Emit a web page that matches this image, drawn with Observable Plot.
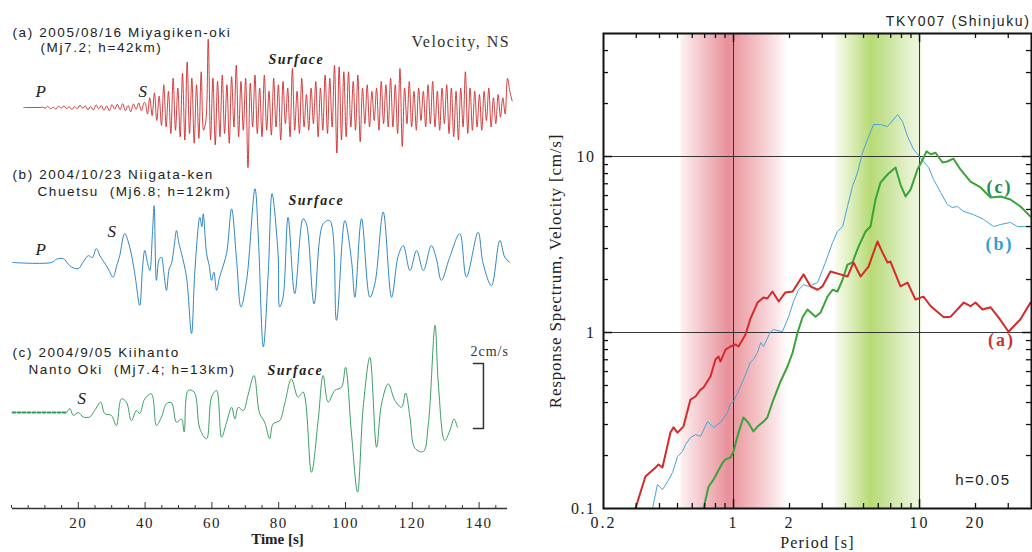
<!DOCTYPE html>
<html><head><meta charset="utf-8">
<script src="https://cdn.jsdelivr.net/npm/d3@7"></script>
<script src="https://cdn.jsdelivr.net/npm/@observablehq/plot@0.6"></script>
<style>
body{margin:0;background:#fff;}
#wrap{position:relative;width:1032px;height:552px;overflow:hidden;background:#fff;}
#left{position:absolute;left:0;top:0;}
#right{position:absolute;left:520px;top:0;}
</style>
</head><body><div id="wrap"><div id="left"></div><div id="right"></div></div>
<script>
// ================= DATA =================
// (a) 2005/08/16 Miyagiken-oki — velocity NS [cm/s]
const aPreStart = 3.7, aPreStep = 0.8;
const aPreVel = [0,0,0,0,0,0,0,0.01,
  -0.02,0.03,-0.04,0.01,-0.05,0.04,-0.02,0.05,-0.03,0.02,-0.06,0.03,-0.04,0.07,-0.02,0.05,-0.07,0.03,
  -0.08,0.08,-0.04,0.06,-0.09,0.05,-0.1,0.09,-0.05,0.1,-0.07,0.12,-0.1,0.06,-0.13,0.11,-0.06,0.14,-0.1,0.15];
const aMainStart = 40, aMainStep = 0.7;
const aMainVel = [
  0.15,-0.2,0.3,-0.25,0.45,-0.4,0.35,-0.55,
  0.7,-0.6,0.5,-0.8,0.9,-0.7,0.6,-0.9,
  1.05,-1.0,1.4,-0.8,0.9,-1.1,0.7,-0.95,
  1.1,-0.7,-0.4,2.1,-1.0,0.9,-1.15,0.8,
  -0.9,1.0,-0.8,0.7,-1.1,0.95,-0.6,1.3,
  -0.9,0.8,-0.7,0.9,-1.85,0.75,-0.6,1.0,
  -0.8,0.6,-0.9,1.0,-0.7,0.5,-0.85,0.9,
  -0.6,0.7,-1.0,0.8,-0.5,0.6,-0.9,1.2,
  -0.7,0.5,-0.8,0.9,-0.6,0.4,-0.7,0.6,
  -0.5,0.8,-0.9,0.6,-0.7,1.0,-0.8,0.9,
  -0.6,1.3,-1.4,1.25,-1.0,1.1,-0.9,1.1,
  -0.6,0.8,-0.7,1.0,-1.05,0.6,-0.5,0.7,
  -0.6,0.5,-0.4,0.6,-0.7,0.8,-0.5,0.7,
  -0.6,0.9,-0.6,0.7,-0.8,1.2,-1.2,0.6,
  -0.5,0.8,-0.6,0.5,-0.7,0.6,-0.4,0.5,
  -0.6,0.7,-0.5,0.8,-0.6,0.5,-0.7,0.6,
  -0.5,0.7,-0.8,0.6,-0.9,0.5,-1.0,0.6,
  -0.6,1.1,-0.8,0.6,-0.7,0.5,-0.6,0.4,
  -0.7,0.5,-0.4,0.6,-0.6,0.3,-0.5,0.4,
  -0.3,0.3,-0.2,0.9,0.5,0.2];

// (b) 2004/10/23 Niigata-ken Chuetsu
const bTime = [0.3,12,13.5,15.5,17,18,20,21.5,23,24.2,25.4,26.5,27.4,29,30.4,31.5,32.4,33.9,35.4,36.9,
  38.4,39.2,39.9,40.7,41.4,42.2,42.7,43.4,44.2,44.9,45.6,46.4,47.2,47.9,48.7,49.4,50.1,50.9,52.4,53.9,
  54.9,56.4,57.0,57.4,58.4,59.2,59.9,60.6,61.4,62.2,62.9,64.4,65.9,67.4,68.7,70.4,72.9,73.9,75.4,76.9,
  78.0,79.8,80.3,81.3,82.8,84.8,87.3,88.3,90.6,93.3,95.3,97.3,99.8,101.8,102.8,104.8,107.3,108.8,111.3,113.8,
  115.8,117.3,119.3,121.3,123.3,125.7,127.2,128.7,131.2,134.2,136.2,139.7,141.2,143.7,146.2,147.7,149.2];
const bVel = [0,0,0.1,0.12,-0.05,-0.14,-0.19,0.02,0.21,0.15,0.43,0.2,0.06,-0.2,-0.45,-0.1,0.21,0.89,0.47,-0.34,
  -1.32,-0.2,0.37,0.0,-0.25,0.9,1.75,-0.55,0.1,0.16,-0.3,-0.86,-0.2,-0.03,0.5,0.98,0.6,0.28,-0.45,-2.19,
  -0.25,1.39,1.1,1.5,0.28,-0.1,-0.55,-0.3,-0.86,-0.5,-0.25,0.28,1.65,0.06,-1.37,-0.55,2.27,0.78,-2.6,-0.25,
  2.12,0.28,-1.37,-1.07,1.39,-0.96,1.35,1.19,-1.27,1.19,1.29,-1.78,1.29,0.06,-1.07,1.35,-1.07,-0.65,1.55,-1.07,
  0.21,0.52,-0.25,0.37,-0.25,0.52,0.12,-0.55,0.16,0.89,-0.45,0.93,-0.03,-0.71,0.68,0.16,0];

// (c) 2004/9/05 Kiihanto Nanto Oki
const cGapTime = [0.3, 16.5];   // before record start (dashed)
const cTime = [16.5,17.5,18.5,20,21.5,23.4,24.9,26.7,27.9,29.9,31.4,32.9,34.4,35.9,37.4,38.4,39.9,41.9,43.4,44.9,
  46.4,47.9,49.4,50.9,51.7,52.9,54.7,56.4,58.4,59.9,61.4,62.9,64.4,65.9,66.9,67.9,69.4,70.9,72.6,74.3,
  75.8,77.3,78.3,80.3,81.8,83.8,85.8,87.3,89.8,91.8,93.3,94.8,96.8,98.8,100,101.8,103.6,105.3,107.3,109.3,
  110.8,112.8,114.8,116.8,118,119.3,120.8,123.3,124.8,126.8,127.8,129.7,131.2,132.5,133.5];
const cVel = [0,0.12,-0.09,0,-0.14,-0.14,0.06,0.32,-0.03,-0.09,-0.4,0.42,0.32,-0.25,0.06,-0.03,0.42,0.57,-0.4,-0.14,
  0.27,0.3,-0.3,-0.2,-0.6,0.68,0.63,-0.5,-0.81,0.47,0.68,-0.76,-0.3,0.16,-0.2,0.16,0.06,0.57,1.14,-0.03,
  -0.3,-0.81,-0.35,-0.25,0.27,1.03,0.47,0.63,-1.84,-0.25,1.14,0.32,0.68,0.78,1.39,-0.66,-2.45,0.16,1.7,-1.07,
  0.27,0.88,0.37,0.16,0.6,-0.14,-1.1,-1.2,-0.35,2.68,0.88,-0.86,-0.57,-0.2,-0.45];

const timeTicks = [20,40,60,80,100,120,140];
const timeMinorTicks = [0,5,10,15,25,30,35,45,50,55,65,70,75,85,90,95,105,110,115,125,130,135,145];
const scaleBarValue = 2; // cm/s

// Response spectra, TKY007 (Shinjuku), h=0.05
const aPeriod = [0.297,0.336,0.381,0.395,0.415,0.458,0.476,0.50,0.538,0.587,0.625,0.665,0.690,0.752,0.80,0.83,0.851,0.906,0.963,1.025,
  1.064,1.16,1.23,1.346,1.45,1.52,1.62,1.75,1.90,2.08,2.38,2.59,2.83,3.01,3.32,3.76,4.10,4.42,4.82,5.32,
  5.94,6.32,6.73,6.98,7.90,8.62,9.51,10.5,11.5,13.5,14.7,17.3,18.8,20.0,21.8,24.1,26.6,30.1,34.9,39.5];
const aSv = [0.100,0.152,0.171,0.178,0.171,0.270,0.289,0.270,0.292,0.416,0.433,0.474,0.487,0.562,0.703,0.731,0.684,0.80,0.833,0.855,
  0.833,0.974,1.19,1.48,1.58,1.56,1.71,1.50,1.69,1.71,2.14,1.83,1.75,1.83,2.22,2.14,2.08,2.50,2.08,2.37,
  3.29,2.85,2.50,2.53,1.83,1.92,1.54,1.60,1.41,1.22,1.23,1.48,1.41,1.48,1.35,1.39,1.22,1.01,1.19,1.48];
const bPeriod = [0.367,0.390,0.415,0.442,0.470,0.50,0.532,0.552,0.587,0.625,0.665,0.725,0.781,0.851,0.928,0.963,1.0,1.09,1.19,1.23,
  1.28,1.346,1.40,1.45,1.58,1.64,1.83,1.98,2.10,2.24,2.38,2.53,2.83,3.12,3.41,3.62,3.86,4.10,4.36,4.64,
  4.94,5.25,5.66,6.17,6.73,7.62,8.11,8.62,9.28,10.1,11.2,11.9,13.0,14.1,15.0,16.0,17.3,19.5,22.1,25.0,
  27.3,30.8,33.6,39.5];
const bSv = [0.100,0.137,0.128,0.142,0.160,0.197,0.211,0.231,0.253,0.263,0.257,0.312,0.289,0.308,0.351,0.395,0.405,0.493,0.616,0.675,
  0.703,0.770,0.877,0.833,1.01,1.04,1.01,1.23,1.50,1.75,1.87,1.83,1.92,2.50,3.25,3.75,4.00,5.20,6.76,8.11,
  10.5,12.5,15.2,15.2,14.8,17.3,15.8,13.0,11.0,9.87,8.66,7.40,6.24,5.34,5.13,5.20,4.87,4.68,4.39,4.00,
  4.11,4.22,4.00,4.00];
const cPeriod = [0.690,0.734,0.781,0.873,0.906,0.963,1.0,1.064,1.13,1.20,1.28,1.346,1.45,1.52,1.64,1.79,1.95,2.08,2.21,2.35,
  2.50,2.76,2.94,3.20,3.41,3.62,3.86,4.10,4.36,4.70,5.13,5.45,5.80,6.17,6.73,7.43,7.90,8.41,8.95,9.75,
  10.4,10.9,11.5,12.2,13.3,14.1,15.2,16.6,18.8,21.3,24.1,27.3,30.8,34.9,39.5];
const cSv = [0.100,0.133,0.146,0.182,0.190,0.195,0.211,0.270,0.329,0.308,0.274,0.292,0.312,0.329,0.416,0.527,0.641,0.770,1.0,1.22,
  1.35,1.23,1.30,1.60,1.75,1.71,2.00,2.43,2.50,3.08,3.75,4.00,5.70,7.12,7.90,8.66,6.93,5.93,6.49,8.44,
  9.61,10.7,10.3,10.5,9.25,9.37,9.74,8.44,7.21,6.67,5.85,5.93,5.70,5.20,4.56];

const periodTicks = [0.2,0.5,1,2,5,10,20];
const periodMinor = [0.3,0.4,0.5,0.6,0.7,0.8,0.9,2,3,4,5,6,7,8,9,20,30];
const periodMajor = [1,10];
const svTicks = [0.1,1,10];
const svMinor = [0.2,0.3,0.4,0.5,0.6,0.7,0.8,0.9,2,3,4,5,6,7,8,9,20,30,40];
const svMajor = [1,10];
const bandShort = [0.52, 1.95];   // red band (s)
const bandLong = [3.54, 10.3];    // green band (s)
const seriesLabels = [
  {text: "(a)", p: 27.6, v: 0.90, c: "#cc3333"},
  {text: "(b)", p: 26.9, v: 3.16, c: "#2f9fd8"},
  {text: "(c)", p: 26.9, v: 6.68, c: "#1e8c50"}
];

// ================= LAYOUT =================
const SANS = "'Liberation Sans', Arial, sans-serif";
const SERIF = "'Liberation Serif', 'Times New Roman', serif";
const H = 552;
const W1 = 520, ML1 = 11, MR1 = 8, MT1 = 0, MB1 = 44;
const PX = 32.5;                         // px per cm/s
const frameBottom1 = H - MB1;
const yTop1 = (frameBottom1 - MT1) / PX;
const baseA = (frameBottom1 - 107) / PX, baseB = (frameBottom1 - 262) / PX, baseC = (frameBottom1 - 412) / PX;
const barT = [138.3, 141.3], barBase = (frameBottom1 - 428) / PX;

const aPts = aPreVel.map((v, i) => ({t: aPreStart + i * aPreStep, v}))
  .concat(aMainVel.map((v, i) => ({t: aMainStart + i * aMainStep, v})));
const bPts = bTime.map((t, i) => ({t, v: bVel[i]}));
const cPts = cTime.map((t, i) => ({t, v: cVel[i]}));
const cGap = cGapTime.map(t => ({t, v: 0}));
const bar = [{t: barT[0], v: scaleBarValue}, {t: barT[1], v: scaleBarValue}, {t: barT[1], v: 0}, {t: barT[0], v: 0}];

function lab(txt, px, py, ml, mt, o = {}) {
  return Plot.text([txt], {text: d => d, frameAnchor: "top-left", dx: px - ml, dy: py - mt,
    lineAnchor: "bottom", textAnchor: "start", ...o});
}
const sansO = {fontFamily: SANS, fontSize: 13.5, fill: "#222", className: "sp16"};
const surfO = {fontFamily: SERIF, fontSize: 14, fontStyle: "italic", fontWeight: 600, fill: "#222", className: "sp15"};
const phO = {fontFamily: SERIF, fontSize: 17, fontStyle: "italic", fill: "#222"};

const left = Plot.plot({
  width: W1, height: H, marginLeft: ML1, marginRight: MR1, marginTop: MT1, marginBottom: MB1,
  x: {domain: [0, 150]}, y: {domain: [0, yTop1], axis: null},
  style: {fontFamily: SERIF, fontSize: "15px", background: "white", overflow: "visible", color: "#222"},
  marks: [
    Plot.line(aPts, {x: "t", y: d => d.v + baseA, stroke: "#cc2a2a", strokeWidth: 0.9, curve: "catmull-rom"}),
    Plot.line(bPts, {x: "t", y: d => d.v + baseB, stroke: "#2f88c4", strokeWidth: 1, curve: "catmull-rom"}),
    Plot.line(cGap, {x: "t", y: d => d.v + baseC, stroke: "#2e9a5a", strokeWidth: 1.8, strokeDasharray: "3,2"}),
    Plot.line(cPts, {x: "t", y: d => d.v + baseC, stroke: "#3c9f66", strokeWidth: 1, curve: "catmull-rom"}),
    Plot.line(bar, {x: "t", y: d => d.v + barBase, stroke: "#333", strokeWidth: 1.5}),
    Plot.ruleY([0], {x1: 0.3, x2: 148.5, stroke: "#333", strokeWidth: 1.3}),
    Plot.ruleX(timeMinorTicks, {insetTop: frameBottom1 - 3, stroke: "#333"}),
    Plot.ruleX(timeTicks, {insetTop: frameBottom1 - 6, stroke: "#333"}),
    Plot.axisX({ticks: timeTicks, tickSize: 0, tickPadding: 9, tickFormat: d => String(d), label: null, fontSize: 15, className: "sp15"}),
    lab("Time [s]", 277, 543, ML1, MT1, {textAnchor: "middle", fontWeight: "bold", fontSize: 15}),
    lab("(a) 2005/08/16 Miyagiken-oki", 12, 36, ML1, MT1, sansO),
    lab("(Mj7.2; h=42km)", 40, 51, ML1, MT1, sansO),
    lab("Velocity, NS", 411, 46, ML1, MT1, {fontFamily: SERIF, fontSize: 16, fill: "#333", className: "sp15"}),
    lab("Surface", 268, 63, ML1, MT1, surfO),
    lab("P", 35, 96, ML1, MT1, phO),
    lab("S", 138, 96, ML1, MT1, phO),
    lab("(b) 2004/10/23 Niigata-ken", 12, 178, ML1, MT1, sansO),
    lab("Chuetsu\u00a0 (Mj6.8; h=12km)", 37, 195, ML1, MT1, sansO),
    lab("Surface", 288, 204, ML1, MT1, surfO),
    lab("S", 107, 236, ML1, MT1, phO),
    lab("P", 35, 254, ML1, MT1, phO),
    lab("(c) 2004/9/05 Kiihanto", 12, 356, ML1, MT1, sansO),
    lab("Nanto Oki\u00a0 (Mj7.4; h=13km)", 28, 373, ML1, MT1, sansO),
    lab("Surface", 267, 374, ML1, MT1, surfO),
    lab("S", 77, 403, ML1, MT1, phO),
    lab("2cm/s", 470, 355, ML1, MT1, {fontFamily: SERIF, fontSize: 14, fill: "#333", className: "sp10"})
  ]
});

const W2 = 512, ML2 = 83, MR2 = 1, MT2 = 33, MB2 = 44;
const FH = H - MT2 - MB2, FW = W2 - ML2 - MR2;
const toPts = (P, V) => P.map((p, i) => ({p, v: V[i]}));

const right = Plot.plot({
  width: W2, height: H, marginLeft: ML2, marginRight: MR2, marginTop: MT2, marginBottom: MB2,
  x: {type: "log", domain: [0.2, 40]}, y: {type: "log", domain: [0.1, 50]},
  style: {fontFamily: SERIF, fontSize: "16px", background: "white", overflow: "visible", color: "#222"},
  marks: [
    Plot.rect([bandShort], {x1: d => d[0], x2: d => d[1], y1: 0.1, y2: 50, fill: "url(#gRed)"}),
    Plot.rect([bandLong], {x1: d => d[0], x2: d => d[1], y1: 0.1, y2: 50, fill: "url(#gGreen)"}),
    Plot.ruleX(periodMajor, {stroke: "#222", strokeWidth: 0.9}),
    Plot.ruleY(svMajor, {stroke: "#222", strokeWidth: 0.9}),
    Plot.line(toPts(bPeriod, bSv), {x: "p", y: "v", stroke: "#4aa3d6", strokeWidth: 1, clip: true}),
    Plot.line(toPts(cPeriod, cSv), {x: "p", y: "v", stroke: "#3aa33a", strokeWidth: 2, clip: true}),
    Plot.line(toPts(aPeriod, aSv), {x: "p", y: "v", stroke: "#d42a2a", strokeWidth: 2, clip: true}),
    Plot.ruleX(periodMinor, {insetTop: FH - 5, stroke: "#111", strokeWidth: 1.3}),
    Plot.ruleX(periodMinor, {insetBottom: FH - 5, stroke: "#111", strokeWidth: 1.3}),
    Plot.ruleX(periodMajor, {insetTop: FH - 9, stroke: "#111", strokeWidth: 1.5}),
    Plot.ruleX(periodMajor, {insetBottom: FH - 9, stroke: "#111", strokeWidth: 1.5}),
    Plot.ruleY(svMinor, {insetRight: FW - 5, stroke: "#111", strokeWidth: 1.3}),
    Plot.ruleY(svMinor, {insetLeft: FW - 5, stroke: "#111", strokeWidth: 1.3}),
    Plot.ruleY(svMajor, {insetRight: FW - 9, stroke: "#111", strokeWidth: 1.5}),
    Plot.ruleY(svMajor, {insetLeft: FW - 9, stroke: "#111", strokeWidth: 1.5}),
    Plot.frame({stroke: "#111", strokeWidth: 2}),
    Plot.axisX({ticks: periodTicks, tickSize: 0, tickPadding: 8, tickFormat: d => String(d), label: null, className: "sp20"}),
    Plot.axisY({ticks: svTicks, tickSize: 0, tickPadding: 8, tickFormat: d => String(d), label: null, className: "sp15"}),
    Plot.text(seriesLabels, {x: "p", y: "v", text: "text", fill: "c", fontSize: 18, fontWeight: 600, fontFamily: SERIF,
      textAnchor: "middle", lineAnchor: "middle", className: "sp20"}),
    Plot.text(["Response Spectrum, Velocity [cm/s]"], {text: d => d, frameAnchor: "left", dx: -48, rotate: -90,
      textAnchor: "middle", lineAnchor: "middle", fontSize: 17, className: "sp08"}),
    Plot.text(["Period [s]"], {text: d => d, frameAnchor: "bottom", dy: 34, textAnchor: "middle", lineAnchor: "middle",
      fontSize: 16, className: "sp12"}),
    Plot.text(["TKY007 (Shinjuku)"], {text: d => d, frameAnchor: "top-right", dx: -1, dy: -8, textAnchor: "end",
      lineAnchor: "bottom", fontFamily: SANS, fontSize: 14, className: "sp16"}),
    Plot.text(["h=0.05"], {text: d => d, frameAnchor: "bottom-right", dx: -21, dy: -28, textAnchor: "end",
      lineAnchor: "middle", fontFamily: SANS, fontSize: 15, className: "sp15"})
  ]
});

// gradients for the shaded period bands
const defs = d3.select(right).insert("defs", ":first-child");
function grad(id, stops) {
  const g = defs.append("linearGradient").attr("id", id).attr("x1", 0).attr("x2", 1).attr("y1", 0).attr("y2", 0);
  stops.forEach(([o, c]) => g.append("stop").attr("offset", o).attr("stop-color", c));
}
grad("gRed", [[0, "#fdf3f4"], [0.1, "#f8dcdf"], [0.45, "#e8909a"], [0.5, "#eb9aa2"], [0.7, "#f3bec3"], [0.9, "#fbe6e8"], [1, "#ffffff"]]);
grad("gGreen", [[0, "#f8fbf0"], [0.15, "#e2f0c4"], [0.41, "#b7db74"], [0.6, "#c8e39a"], [0.85, "#e4f1cc"], [1, "#f0f7e2"]]);

document.getElementById("left").appendChild(left);
document.getElementById("right").appendChild(right);

// letter spacing to match the wide lettering of the reference
const sp = {sp08: "0.8px", sp10: "1px", sp12: "1.2px", sp15: "1.5px", sp16: "1.6px", sp20: "2px"};
for (const [cls, v] of Object.entries(sp)) {
  d3.selectAll(`.${cls} text, text.${cls}`).attr("letter-spacing", v);
  d3.selectAll(`g.${cls}`).attr("letter-spacing", v);
}
</script>
</body></html>
